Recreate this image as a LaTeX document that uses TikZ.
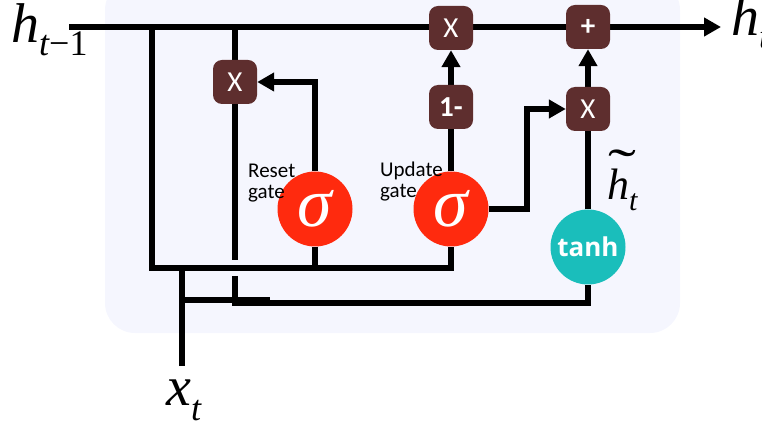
\documentclass[tikz,border=0pt]{standalone}
\usepackage{fontspec}
\usepackage{graphicx}
\setmainfont{Carlito}
\newfontfamily\carl{Carlito}
\newfontfamily\serifit{Liberation Serif}
\newfontfamily\opensans{Open Sans}
\usetikzlibrary{arrows.meta}
\definecolor{boxc}{HTML}{5E2E2E}
\definecolor{sigred}{HTML}{FF2A0E}
\definecolor{tealc}{HTML}{1ABEBB}
\definecolor{bgc}{HTML}{F5F6FE}
\pgfdeclarelayer{bgl}\pgfdeclarelayer{wires}\pgfsetlayers{bgl,wires,main}
\newcommand\mysub[2]{\raisebox{-#1}{\fontsize{36}{36}\selectfont #2}}
\begin{document}
\begin{tikzpicture}[x=1pt,y=-1pt,
  wire/.style={line width=5.5pt, black},
  arr/.style={wire, -{Triangle[length=17pt,width=18pt]}},
  opbox/.style={rounded corners=9pt, fill=boxc, minimum width=44pt, minimum height=44pt, inner sep=0pt, text=white, font=\carl\fontsize{29}{29}\selectfont},
  gate/.style={circle, fill=sigred, minimum size=75pt, inner sep=0pt, text=white, font=\serifit\itshape\fontsize{70}{70}\selectfont},
  lbl/.style={inner sep=0pt, anchor=base west, font=\serifit\fontsize{56}{56}\selectfont},
  gatelbl/.style={inner sep=0pt, anchor=north west, align=left, font=\carl\fontsize{21}{20.5}\selectfont}
]
\useasboundingbox (0,0) rectangle (762,427);
\begin{pgfonlayer}{bgl}
\fill[bgc, rounded corners=30pt] (105,-20) rectangle (680,333);
\end{pgfonlayer}
% operators
\node[opbox] (rx) at (235,82) {X};
\node[opbox] (ux1) at (451,28) {X};
\node[opbox] (om) at (451,107) {\bfseries 1-};
\node[opbox] (ux2) at (588,109) {X};
\node[opbox] (plus) at (588,27) {\bfseries +};
\node[gate] (rsig) at (315,209) {σ};
\node[gate] (usig) at (451,209) {σ};
\node[gate, fill=tealc, font=\opensans\bfseries\fontsize{26}{26}\selectfont] (tanh) at (588,247) {tanh};
% labels
\node[lbl] (lhin) at (11,43) {\itshape h\mysub{13pt}{\itshape t\upshape −1}};
\node[lbl] (lhout) at (731,36) {\itshape h\mysub{13pt}{\itshape t}};
\node[lbl] (lxt) at (166,405) {\itshape x\mysub{15pt}{\itshape t}};
\node[lbl, font=\serifit\fontsize{44}{44}\selectfont] (lht) at (607,200) {\rlap{\hspace{1pt}\raisebox{14pt}{\scalebox{1.9}[1.2]{˜}}}\itshape h\raisebox{-11pt}{\fontsize{30}{30}\selectfont t}};
\node[gatelbl] (lreset) at (248,164) {Reset\\gate};
\node[gatelbl] (lupdate) at (380,162) {Update\\gate};
% wires
\begin{pgfonlayer}{wires}
\coordinate (hin) at (69,27);
\coordinate (hout) at (721,27);
\draw[arr] (hin) -- (hout);
\coordinate (ja) at (152,27);
\coordinate (cb) at (152,268);
\draw[wire] (ja) -- (cb) -| (usig.south);
\draw[wire] (rsig.south) -- (rsig.south |- cb);
\coordinate (xin) at (182,366);
\draw[wire] (xin) -- (xin |- cb);
\coordinate (xa) at (182,300);
\coordinate (xb) at (270,300);
\draw[wire] (xa) -- (xb);
\coordinate (jb) at (235,27);
\draw[wire] (jb) -- (rx.north);
\coordinate (gapa) at (235,260);
\draw[wire] (rx.south) -- (gapa);
\coordinate (gapb) at (235,276);
\coordinate (cc) at (235,303);
\draw[wire] (gapb) -- (cc) -| (tanh.south);
\draw[arr] (rsig.north) |- (rx.east);
\draw[wire] (usig.north) -- (om.south);
\draw[arr] (om.north) -- (ux1.south);
\coordinate (cu) at (527,209);
\draw[arr] (usig.east) -- (cu) |- (ux2.west);
\draw[wire] (tanh.north) -- (ux2.south);
\draw[arr] (ux2.north) -- (plus.south);
\end{pgfonlayer}
\end{tikzpicture}
\end{document}
